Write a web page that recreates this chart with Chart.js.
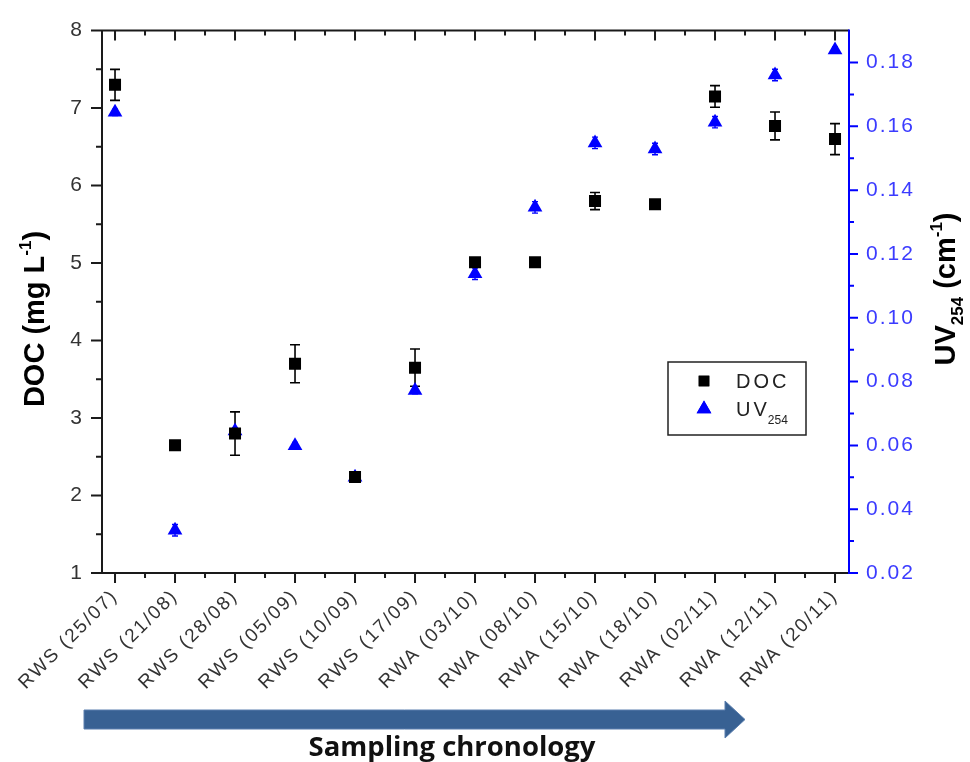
<!DOCTYPE html>
<html><head><meta charset="utf-8">
<script src="https://cdn.jsdelivr.net/npm/chart.js@4.4.1/dist/chart.umd.min.js"></script>
<style>html,body{margin:0;padding:0;background:#fff;overflow:hidden}#wrap{width:970px;height:762px;position:relative}</style>
</head><body><div id="wrap"><canvas id="c" width="970" height="762"></canvas></div>
<script>
// ---- data ----
const categories = ['RWS (25/07)','RWS (21/08)','RWS (28/08)','RWS (05/09)','RWS (10/09)','RWS (17/09)','RWA (03/10)','RWA (08/10)','RWA (15/10)','RWA (18/10)','RWA (02/11)','RWA (12/11)','RWA (20/11)'];
const docValues = [7.30, 2.65, 2.80, 3.70, 2.24, 3.65, 5.01, 5.01, 5.80, 5.76, 7.15, 6.77, 6.60];
const docErrors = [0.20, 0.00, 0.28, 0.245, 0.00, 0.24, 0.00, 0.00, 0.11, 0.00, 0.14, 0.18, 0.20];
const uvValues = [0.1644, 0.0334, 0.0645, 0.0599, 0.0500, 0.0772, 0.1138, 0.1346, 0.1548, 0.1529, 0.1613, 0.1761, 0.1839];
const uvErrors = [0.0010, 0.0018, 0.0010, 0.0010, 0.0010, 0.0010, 0.0018, 0.0018, 0.0018, 0.0018, 0.0018, 0.0018, 0.0010];
const docTicks = [1, 2, 3, 4, 5, 6, 7, 8];
const uvTicks = [0.02, 0.04, 0.06, 0.08, 0.10, 0.12, 0.14, 0.16, 0.18];
const docMinorTicks = [1.5, 2.5, 3.5, 4.5, 5.5, 6.5, 7.5];
const uvMinorTicks = [0.03, 0.05, 0.07, 0.09, 0.11, 0.13, 0.15, 0.17];

const SANS = "'Liberation Sans', Arial, sans-serif";
const AXIS_COLOR = '#1a1a1a';
const BLUE = '#0000ff';

function drawErrorBars(chart) {
  const ctx = chart.ctx, xs = chart.scales.x, a = chart.chartArea;
  ctx.save();
  ctx.beginPath(); ctx.rect(a.left, a.top, a.right - a.left, a.bottom - a.top); ctx.clip();
  const sets = [
    {vals: docValues, errs: docErrors, scale: chart.scales.y, color: '#000', cap: 5, lw: 1.6},
    {vals: uvValues, errs: uvErrors, scale: chart.scales.y1, color: BLUE, cap: 3, lw: 1.4}
  ];
  sets.forEach(s => {
    ctx.strokeStyle = s.color; ctx.lineWidth = s.lw;
    s.vals.forEach((v, i) => {
      const e = s.errs[i]; if (!e) return;
      const x = xs.getPixelForValue(i);
      const y1 = s.scale.getPixelForValue(v + e), y2 = s.scale.getPixelForValue(v - e);
      ctx.beginPath();
      ctx.moveTo(x, y1); ctx.lineTo(x, y2);
      ctx.moveTo(x - s.cap, y1); ctx.lineTo(x + s.cap, y1);
      ctx.moveTo(x - s.cap, y2); ctx.lineTo(x + s.cap, y2);
      ctx.stroke();
    });
  });
  ctx.restore();
}

function drawFrame(chart) {
  const ctx = chart.ctx, a = chart.chartArea, xs = chart.scales.x, yl = chart.scales.y, yr = chart.scales.y1;
  ctx.save();
  ctx.lineWidth = 2; ctx.lineCap = 'butt';
  ctx.strokeStyle = AXIS_COLOR;
  ctx.beginPath();
  ctx.moveTo(a.left, a.bottom); ctx.lineTo(a.right, a.bottom);
  ctx.moveTo(a.left, a.top); ctx.lineTo(a.right, a.top);
  ctx.moveTo(a.left, a.top - 1); ctx.lineTo(a.left, a.bottom + 1);
  categories.forEach((c, i) => {
    const x = xs.getPixelForValue(i);
    ctx.moveTo(x, a.bottom); ctx.lineTo(x, a.bottom + 10);
    ctx.moveTo(x, a.top); ctx.lineTo(x, a.top + 10);
    if (i < categories.length - 1) {
      const xm = xs.getPixelForValue(i + 0.5);
      ctx.moveTo(xm, a.bottom); ctx.lineTo(xm, a.bottom + 5);
      ctx.moveTo(xm, a.top); ctx.lineTo(xm, a.top + 5);
    }
  });
  docTicks.forEach(v => { const y = yl.getPixelForValue(v); ctx.moveTo(a.left, y); ctx.lineTo(a.left - 11, y); });
  docMinorTicks.forEach(v => { const y = yl.getPixelForValue(v); ctx.moveTo(a.left, y); ctx.lineTo(a.left - 6, y); });
  ctx.stroke();
  ctx.strokeStyle = BLUE;
  ctx.beginPath();
  ctx.moveTo(a.right, a.top - 1); ctx.lineTo(a.right, a.bottom + 1);
  uvTicks.forEach(v => { const y = yr.getPixelForValue(v); ctx.moveTo(a.right, y); ctx.lineTo(a.right + 9, y); });
  uvMinorTicks.forEach(v => { const y = yr.getPixelForValue(v); ctx.moveTo(a.right, y); ctx.lineTo(a.right + 5, y); });
  ctx.stroke();
  ctx.restore();
}

function drawRich(ctx, parts, baseSize, weight, family) {
  let w = 0;
  parts.forEach(p => { ctx.font = weight + ' ' + Math.round(baseSize * p[1]) + 'px ' + family; w += ctx.measureText(p[0]).width; });
  let x = -w / 2;
  parts.forEach(p => {
    ctx.font = weight + ' ' + Math.round(baseSize * p[1]) + 'px ' + family;
    ctx.fillText(p[0], x, p[2] * baseSize);
    x += ctx.measureText(p[0]).width;
  });
}

function drawExtras(chart) {
  const ctx = chart.ctx;
  ctx.save();
  ctx.fillStyle = '#000'; ctx.textBaseline = 'alphabetic'; ctx.textAlign = 'left';
  ctx.save(); ctx.translate(44, 319); ctx.rotate(-Math.PI / 2);
  drawRich(ctx, [['DOC (mg L', 1, 0], ['-1', 0.6, -0.45], [')', 1, 0]], 29, 'bold', SANS);
  ctx.restore();
  ctx.save(); ctx.translate(955, 289); ctx.rotate(-Math.PI / 2);
  drawRich(ctx, [['UV', 1, 0], ['254', 0.6, 0.28], [' (cm', 1, 0], ['-1', 0.6, -0.45], [')', 1, 0]], 29, 'bold', SANS);
  ctx.restore();

  ctx.lineWidth = 1.5; ctx.strokeStyle = '#222';
  ctx.strokeRect(668, 362, 138, 73);
  Chart.helpers.drawPoint(ctx, {pointStyle: 'rect', radius: 7.5, borderWidth: 0, rotation: 0}, 704, 381);
  ctx.fillStyle = '#000'; ctx.fill();
  ctx.fillStyle = BLUE;
  Chart.helpers.drawPoint(ctx, {pointStyle: 'triangle', radius: 8.5, borderWidth: 0, rotation: 0}, 704, 409);
  ctx.fill();
  ctx.fillStyle = '#222'; ctx.textBaseline = 'middle';
  ctx.letterSpacing = '3px';
  ctx.font = '20px ' + SANS;
  ctx.fillText('DOC', 736, 382);
  ctx.fillText('UV', 736, 410);
  const uvw = ctx.measureText('UV').width;
  ctx.letterSpacing = '0px';
  ctx.font = '12px ' + SANS;
  ctx.fillText('254', 736 + uvw - 2, 421);

  ctx.fillStyle = '#386193'; ctx.strokeStyle = '#5b7fae'; ctx.lineWidth = 1;
  ctx.beginPath();
  ctx.moveTo(84, 710); ctx.lineTo(725, 710); ctx.lineTo(725, 701); ctx.lineTo(745, 719.5);
  ctx.lineTo(725, 738); ctx.lineTo(725, 729); ctx.lineTo(84, 729); ctx.closePath();
  ctx.fill(); ctx.stroke();

  ctx.fillStyle = '#111'; ctx.textBaseline = 'alphabetic'; ctx.textAlign = 'center';
  ctx.font = 'bold 24px "Open Sans", sans-serif';
  const w = ctx.measureText('Sampling chronology').width;
  const size = 24 * 287 / w;
  ctx.font = 'bold ' + size.toFixed(2) + 'px "Open Sans", sans-serif';
  ctx.fillText('Sampling chronology', 452, 756);
  ctx.restore();
}

const customPlugin = {
  id: 'custom',
  beforeDraw(chart) {
    const ctx = chart.ctx;
    ctx.save(); ctx.fillStyle = '#fff'; ctx.fillRect(0, 0, chart.width, chart.height); ctx.restore();
    ctx.letterSpacing = '2px';
  },
  beforeDatasetsDraw(chart) {
    chart.ctx.letterSpacing = '0px';
    drawErrorBars(chart);
  },
  afterDatasetsDraw(chart) { drawFrame(chart); },
  afterDraw(chart) { drawExtras(chart); }
};

new Chart(document.getElementById('c'), {
  type: 'scatter',
  data: {
    datasets: [
      { label: 'DOC', data: docValues.map((v, i) => ({x: i, y: v})), yAxisID: 'y',
        pointStyle: 'rect', pointRadius: 8.5, backgroundColor: '#000', borderColor: '#000', borderWidth: 0 },
      { label: 'UV254', data: uvValues.map((v, i) => ({x: i, y: v})), yAxisID: 'y1',
        pointStyle: 'triangle', pointRadius: 8.5, backgroundColor: BLUE, borderColor: BLUE, borderWidth: 0 }
    ]
  },
  options: {
    responsive: false, animation: false, events: [],
    layout: { padding: { top: 27, left: 0, right: 0, bottom: 0 } },
    plugins: { legend: { display: false }, tooltip: { enabled: false } },
    scales: {
      x: {
        type: 'linear', position: 'bottom', min: -0.217, max: 12.233,
        afterBuildTicks: s => { s.ticks = categories.map((c, i) => ({ value: i })); },
        afterFit: s => { s.height = 189; },
        grid: { display: false, drawTicks: false }, border: { display: false },
        ticks: { callback: v => categories[v], minRotation: 45, maxRotation: 45, autoSkip: false, padding: 12,
                 font: { family: SANS, size: 19 }, color: '#333' }
      },
      y: {
        position: 'left', min: 1, max: 8,
        afterBuildTicks: s => { s.ticks = docTicks.map(v => ({ value: v })); },
        afterFit: s => { s.width = 102; },
        grid: { display: false, drawTicks: false }, border: { display: false },
        ticks: { padding: 18, font: { family: SANS, size: 21 }, color: '#333' }
      },
      y1: {
        position: 'right', min: 0.02, max: 0.19,
        afterBuildTicks: s => { s.ticks = uvTicks.map(v => ({ value: v })); },
        afterFit: s => { s.width = 121; },
        grid: { display: false, drawTicks: false }, border: { display: false },
        ticks: { padding: 17, callback: v => v.toFixed(2), font: { family: SANS, size: 21 }, color: '#3b3bff' }
      }
    }
  },
  plugins: [customPlugin]
});
</script>
</body></html>
